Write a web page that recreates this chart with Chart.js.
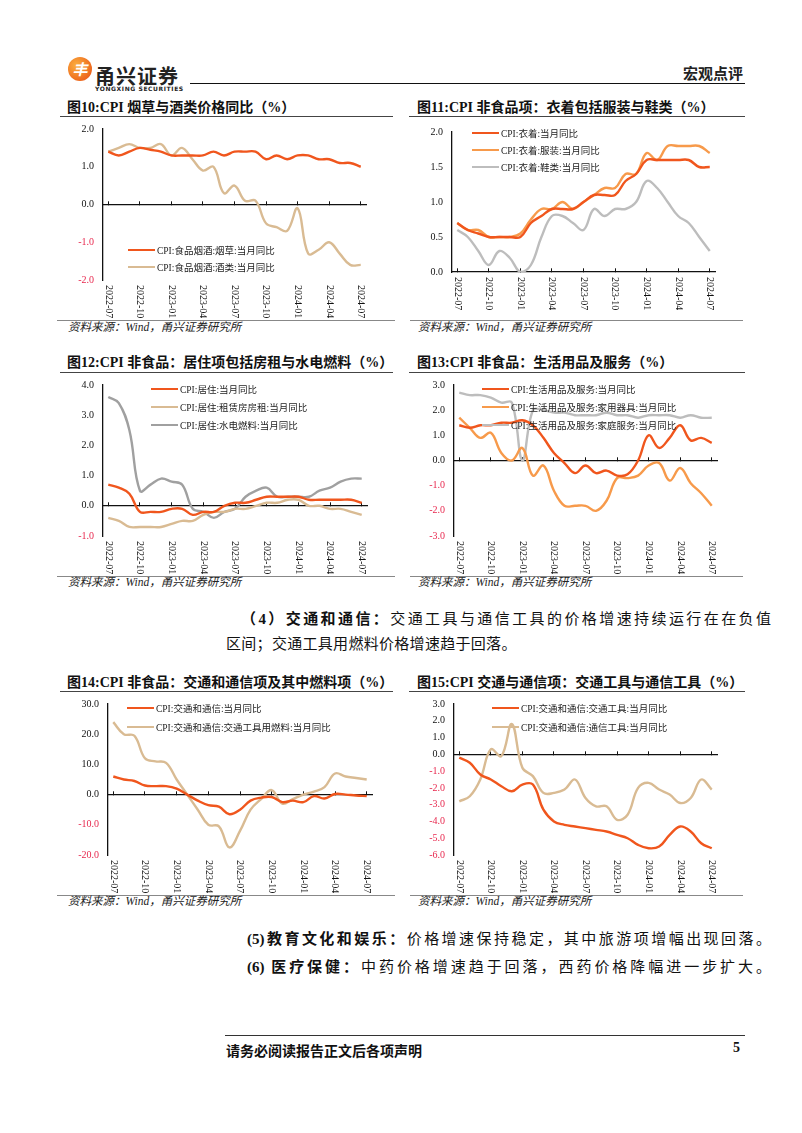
<!DOCTYPE html>
<html><head><meta charset="utf-8">
<script src="https://cdn.jsdelivr.net/npm/chart.js@4"></script>
<style>
html,body{margin:0;padding:0;background:#fff;}
body{width:802px;height:1133px;position:relative;overflow:hidden;font-family:"Liberation Serif","Noto Sans CJK SC",serif;color:#111;}
.t{position:absolute;white-space:nowrap;line-height:1;}
.title{font-size:14px;font-weight:bold;color:#111;}
.rule{position:absolute;height:0;}
.src{font-size:11.5px;font-style:italic;color:#222;}
.leg{position:absolute;display:flex;align-items:center;height:12px;white-space:nowrap;}
.leg i{display:inline-block;width:27px;height:2.6px;}
.leg span{font-size:9.5px;margin-left:2px;color:#222;font-family:"Liberation Serif","Noto Sans CJK SC",serif;}
.body{font-size:15px;color:#111;}
.just{text-align:justify;text-align-last:justify;}
b{font-weight:bold;}
</style>
</head><body>
<script>
// ---------- data ----------
const months = ['2022-07','2022-08','2022-09','2022-10','2022-11','2022-12',
  '2023-01','2023-02','2023-03','2023-04','2023-05','2023-06','2023-07','2023-08','2023-09','2023-10','2023-11','2023-12',
  '2024-01','2024-02','2024-03','2024-04','2024-05','2024-06','2024-07'];

const c10Tobacco = [1.4,1.3,1.4,1.5,1.45,1.4,1.3,1.3,1.3,1.3,1.4,1.3,1.4,1.4,1.4,1.2,1.3,1.2,1.3,1.3,1.2,1.2,1.1,1.1,1.0];
const c10Liquor  = [1.4,1.5,1.6,1.5,1.5,1.6,1.3,1.5,1.2,0.9,1.0,0.3,0.5,0.1,0.1,-0.5,-0.6,-0.7,-0.1,-1.3,-1.2,-1.0,-1.3,-1.6,-1.6];

const c11Clothing = [0.7,0.6,0.55,0.5,0.5,0.5,0.5,0.7,0.8,0.9,0.9,0.9,1.0,1.1,1.1,1.1,1.3,1.4,1.6,1.6,1.6,1.6,1.6,1.5,1.5];
const c11Garment  = [0.7,0.6,0.6,0.5,0.5,0.5,0.55,0.75,0.9,0.9,1.0,0.9,1.0,1.1,1.2,1.2,1.4,1.4,1.7,1.6,1.8,1.8,1.8,1.8,1.7];
const c11Shoes    = [0.6,0.5,0.3,0.1,0.3,0.2,0.0,0.1,0.5,0.8,0.8,0.7,0.6,0.9,0.8,0.9,0.9,1.0,1.3,1.2,1.0,0.8,0.7,0.5,0.3];

const c12Housing = [0.7,0.6,0.4,-0.2,-0.2,-0.2,-0.1,-0.1,-0.3,-0.2,-0.2,0.0,0.1,0.1,0.2,0.3,0.3,0.3,0.3,0.2,0.2,0.2,0.2,0.2,0.1];
const c12Rent    = [-0.4,-0.5,-0.7,-0.7,-0.7,-0.7,-0.6,-0.5,-0.5,-0.3,-0.2,-0.2,-0.1,-0.1,0.0,0.1,0.1,0.2,0.2,0.0,0.0,-0.1,-0.1,-0.2,-0.3];
const c12Utility = [3.6,3.4,2.5,0.5,0.7,0.9,0.8,0.7,-0.1,-0.2,-0.4,-0.2,-0.1,0.3,0.5,0.6,0.3,0.3,0.3,0.3,0.5,0.6,0.8,0.9,0.9];

const c13Goods     = [1.4,1.3,1.4,1.4,1.5,1.5,1.6,1.4,0.9,0.3,-0.1,-0.5,-0.2,-0.5,-0.4,-0.6,-0.55,0.0,1.0,0.5,0.9,1.4,0.8,0.9,0.7];
const c13Appliance = [1.7,1.3,0.9,1.1,0.3,0.0,0.5,-0.6,-0.2,-1.2,-1.8,-1.8,-1.8,-2.0,-1.6,-0.7,-0.7,-0.6,-0.2,-0.1,-0.8,-0.3,-0.9,-1.3,-1.8];
const c13Service   = [2.7,2.6,2.6,2.5,2.3,2.3,0.0,2.0,2.0,1.9,1.9,1.8,1.8,1.8,1.9,1.8,1.8,1.7,1.8,1.8,1.8,1.7,1.8,1.7,1.7];

const c14Total = [6.0,5.0,4.5,3.0,2.8,2.8,2.0,0.0,-2.0,-3.5,-4.0,-6.5,-5.0,-2.0,-1.0,-0.8,-2.5,-2.0,-2.5,-0.5,-1.3,0.2,0.0,-0.3,-0.5];
const c14Fuel  = [24.0,20.0,19.5,12.0,11.0,10.5,5.0,0.0,-5.0,-10.0,-10.5,-17.5,-12.0,-5.0,-1.5,1.5,-3.0,-1.5,0.0,1.0,2.5,7.0,6.0,5.5,5.0];

const c15Vehicle = [-0.2,-0.5,-1.2,-1.5,-1.9,-2.2,-1.8,-1.8,-3.3,-4.0,-4.2,-4.3,-4.4,-4.5,-4.6,-4.8,-5.0,-5.4,-5.6,-5.5,-4.8,-4.3,-4.6,-5.3,-5.6];
const c15Telecom = [-2.8,-2.5,-1.5,0.3,-0.1,1.8,-0.8,-1.3,-2.3,-2.3,-2.1,-1.5,-2.6,-3.1,-3.1,-3.9,-3.6,-2.0,-1.7,-2.1,-2.4,-2.9,-2.6,-1.5,-2.1];

// ---------- styles ----------
const RED='#F0561D', TAN='#D9BB93', GRAY='#A0A0A0', LGRAY='#BDBDBD', ORANGE='#F79A4B', NEG='#E8294F';
const YW=46, PT=10, PR=10, PB=46;

const vlabels = { id:'vlabels', afterDraw(chart){
  const xs = chart.scales.x, ctx = chart.ctx, b = chart.chartArea.bottom;
  ctx.save();
  ctx.font = '10px "Liberation Serif"'; ctx.fillStyle = '#111';
  ctx.textAlign = 'left'; ctx.textBaseline = 'middle';
  months.forEach((m,i)=>{
    if (i % 3) return;
    const px = xs.getPixelForValue(i);
    ctx.save(); ctx.translate(px, b + 5); ctx.rotate(Math.PI/2); ctx.fillText(m, 0, 0); ctx.restore();
  });
  ctx.restore();
}};

function el(html){ document.body.insertAdjacentHTML('beforeend', html); }

function makeChart(area, yMin, yMax, yStep, sets){
  const left = area.l - YW, top = area.t - PT;
  const w = area.r + PR - left, h = area.b + PB - top;
  const cv = document.createElement('canvas');
  cv.width = w; cv.height = h;
  cv.style.cssText = 'position:absolute;left:'+left+'px;top:'+top+'px;width:'+w+'px;height:'+h+'px;';
  document.body.appendChild(cv);
  new Chart(cv, {
    type:'line',
    data:{labels:months, datasets:sets.map(s=>({label:s.label, data:s.data, borderColor:s.color, borderWidth:2.4, pointRadius:0, tension:0.4, fill:false}))},
    options:{
      responsive:false, animation:false, devicePixelRatio:1,
      layout:{padding:{left:0, top:PT, right:PR, bottom:PB}},
      plugins:{legend:{display:false}, tooltip:{enabled:false}},
      scales:{
        x:{type:'category', offset:true, position:{y:0},
           ticks:{display:false},
           grid:{display:true, drawOnChartArea:false, drawTicks:true, tickLength:-4,
                 color:c=>(c.index%3===0)?'#111':'rgba(0,0,0,0)', lineWidth:1},
           border:{display:true, color:'#111', width:1.3}},
        y:{min:yMin, max:yMax,
           ticks:{stepSize:yStep, padding:9, font:{family:'"Liberation Serif"', size:10},
                  color:c=>(c.tick && c.tick.value < 0) ? NEG : '#111',
                  callback:v=>Number(v).toFixed(1)},
           grid:{display:false, drawTicks:false},
           border:{display:true, color:'#111', width:1.3},
           afterFit:s=>{ s.width = YW; }}
      }
    },
    plugins:[vlabels]
  });
  // legend
  sets.forEach((s,i)=>{
    el('<div class="leg" style="left:'+area.lx+'px;top:'+(area.ly[i]-6)+'px"><i style="background:'+s.color+'"></i><span>'+s.label+'</span></div>');
  });
}

// ---------- page furniture ----------
el('<div style="position:absolute;left:68px;top:57px;width:24px;height:24px;border-radius:50%;background:radial-gradient(circle at 35% 35%,#FBB040,#EE6A1E 70%,#E0501A);"></div>');
el('<div class="t" style="left:68px;top:57px;width:24px;height:24px;line-height:24px;text-align:center;font:italic bold 15px/24px \'Noto Sans CJK SC\';color:#fff;">丰</div>');
el('<div class="t" style="left:95px;top:61px;font:bold 20px \'Noto Sans CJK SC\';color:#222;letter-spacing:1px;">甬兴证券</div>');
el('<div class="t" style="left:95px;top:85px;font:bold 6px \'DejaVu Sans\';color:#222;letter-spacing:0.6px;">YONGXING SECURITIES</div>');
el('<div class="rule" style="left:190px;top:83px;width:555px;border-top:1.6px solid #111;"></div>');
el('<div class="t" style="left:683px;top:62px;font:bold 15px \'Noto Sans CJK SC\';color:#222;">宏观点评</div>');

const titles = [
  {x:67,y:108,txt:'图10:CPI 烟草与酒类价格同比（%）'},
  {x:417,y:108,txt:'图11:CPI 非食品项：衣着包括服装与鞋类（%）'},
  {x:67,y:363,txt:'图12:CPI 非食品：居住项包括房租与水电燃料（%）'},
  {x:417,y:363,txt:'图13:CPI 非食品：生活用品及服务（%）'},
  {x:67,y:683,txt:'图14:CPI 非食品：交通和通信项及其中燃料项（%）'},
  {x:417,y:683,txt:'图15:CPI 交通与通信项：交通工具与通信工具（%）'}
];
titles.forEach(t=>el('<div class="t title" style="left:'+t.x+'px;top:'+(t.y-7)+'px">'+t.txt+'</div>'));
[[60,116,333],[409,116,336],[60,372,333],[409,372,336],[60,691,333],[409,691,336]].forEach(r=>
  el('<div class="rule" style="left:'+r[0]+'px;top:'+r[1]+'px;width:'+r[2]+'px;border-top:1.5px solid #444;"></div>'));
[[57,320,338],[410,320,333],[57,576,338],[410,576,333],[57,895,338],[410,895,333]].forEach(r=>
  el('<div class="rule" style="left:'+r[0]+'px;top:'+r[1]+'px;width:'+r[2]+'px;border-top:1px solid #888;"></div>'));
[[68,328],[418,328],[68,583],[418,583],[68,902],[418,902]].forEach(p=>
  el('<div class="t src" style="left:'+p[0]+'px;top:'+(p[1]-6)+'px">资料来源：Wind，甬兴证券研究所</div>'));

// body text
el('<div class="t body just" style="left:241px;top:612px;width:530px;"><b>（4）交通和通信：</b>交通工具与通信工具的价格增速持续运行在在负值</div>');
el('<div class="t body" style="left:226px;top:637px;letter-spacing:0.3px;">区间；交通工具用燃料价格增速趋于回落。</div>');
el('<div class="t body just" style="left:247px;top:932px;width:524px;"><b>(5)教育文化和娱乐：</b>价格增速保持稳定，其中旅游项增幅出现回落。</div>');
el('<div class="t body just" style="left:247px;top:960px;width:524px;"><b>(6) 医疗保健：</b>中药价格增速趋于回落，西药价格降幅进一步扩大。</div>');
el('<div class="rule" style="left:225px;top:1035px;width:520px;border-top:1.3px solid #333;"></div>');
el('<div class="t" style="left:226px;top:1040px;font:bold 14px \'Liberation Serif\',\'Noto Sans CJK SC\';color:#111;">请务必阅读报告正文后各项声明</div>');
el('<div class="t" style="left:733px;top:1040px;font:bold 14px \'Liberation Serif\';color:#111;">5</div>');

// ---------- charts ----------
makeChart({l:103,r:366,t:124,b:280,lx:128,ly:[250,267]}, -2, 2, 1, [
  {label:'CPI:食品烟酒:烟草:当月同比', data:c10Tobacco, color:RED},
  {label:'CPI:食品烟酒:酒类:当月同比', data:c10Liquor, color:TAN}
]);
makeChart({l:452,r:715,t:127,b:272,lx:472,ly:[133,150,167]}, 0, 2, 0.5, [
  {label:'CPI:衣着:当月同比', data:c11Clothing, color:RED},
  {label:'CPI:衣着:服装:当月同比', data:c11Garment, color:ORANGE},
  {label:'CPI:衣着:鞋类:当月同比', data:c11Shoes, color:LGRAY}
]);
makeChart({l:103,r:367,t:380,b:536,lx:151,ly:[389,407,425]}, -1, 4, 1, [
  {label:'CPI:居住:当月同比', data:c12Housing, color:RED},
  {label:'CPI:居住:租赁房房租:当月同比', data:c12Rent, color:TAN},
  {label:'CPI:居住:水电燃料:当月同比', data:c12Utility, color:GRAY}
]);
makeChart({l:454,r:717,t:380,b:536,lx:482,ly:[389,407,425]}, -3, 3, 1, [
  {label:'CPI:生活用品及服务:当月同比', data:c13Goods, color:RED},
  {label:'CPI:生活用品及服务:家用器具:当月同比', data:c13Appliance, color:ORANGE},
  {label:'CPI:生活用品及服务:家庭服务:当月同比', data:c13Service, color:LGRAY}
]);
makeChart({l:108,r:372,t:699,b:855,lx:127,ly:[708,727]}, -20, 30, 10, [
  {label:'CPI:交通和通信:当月同比', data:c14Total, color:RED},
  {label:'CPI:交通和通信:交通工具用燃料:当月同比', data:c14Fuel, color:TAN}
]);
makeChart({l:454,r:717,t:699,b:855,lx:492,ly:[708,727]}, -6, 3, 1, [
  {label:'CPI:交通和通信:交通工具:当月同比', data:c15Vehicle, color:RED},
  {label:'CPI:交通和通信:通信工具:当月同比', data:c15Telecom, color:TAN}
]);
</script>
</body></html>
